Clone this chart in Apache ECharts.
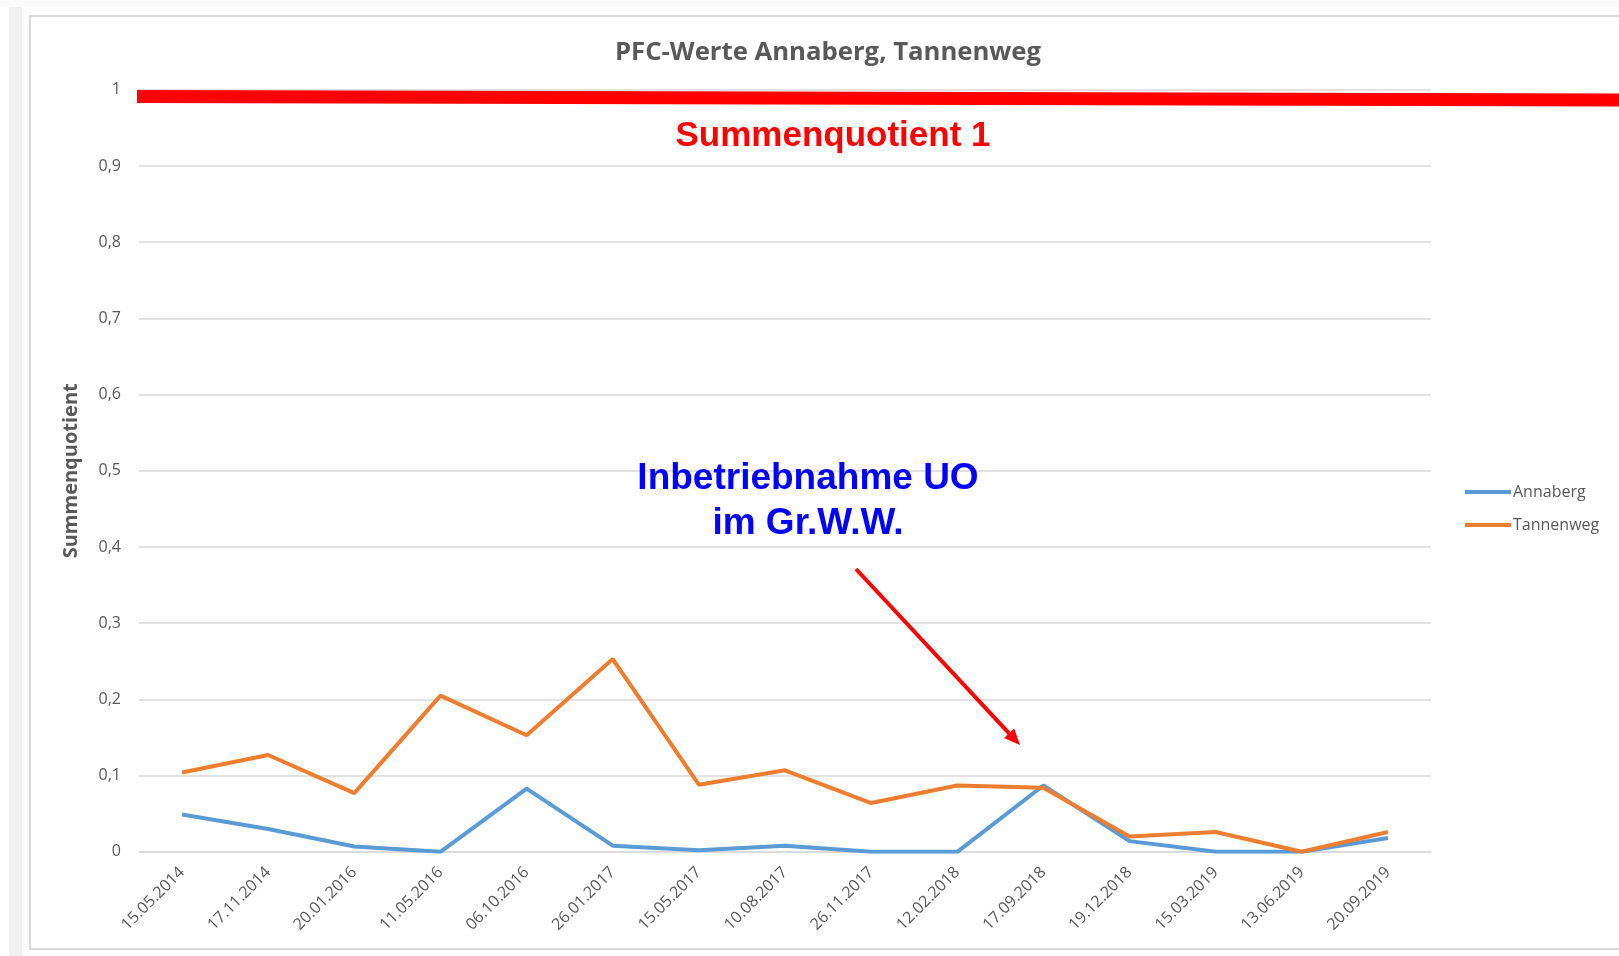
<!DOCTYPE html>
<html>
<head>
<meta charset="utf-8">
<script src="https://cdn.jsdelivr.net/npm/echarts@6/dist/echarts.min.js"></script>
<style>
html,body{margin:0;padding:0;background:#ffffff;}
#chart{width:1619px;height:956px;}
</style>
</head>
<body>
<div id="chart"></div>
<script>
// ---- data ----
const categories = ['15.05.2014','17.11.2014','20.01.2016','11.05.2016','06.10.2016','26.01.2017','15.05.2017','10.08.2017','26.11.2017','12.02.2018','17.09.2018','19.12.2018','15.03.2019','13.06.2019','20.09.2019'];
const annaberg  = [0.049,0.030,0.007,0.000,0.083,0.008,0.002,0.008,0.000,0.000,0.087,0.014,0.000,0.000,0.018];
const tannenweg = [0.104,0.127,0.077,0.205,0.153,0.253,0.088,0.107,0.064,0.087,0.084,0.020,0.026,0.000,0.026];
const seriesNames = ['Annaberg','Tannenweg'];
const chartTitle = 'PFC-Werte Annaberg, Tannenweg';
const yAxisName = 'Summenquotient';
const limitLabel = 'Summenquotient 1';
const noteLines = ['Inbetriebnahme UO','im Gr.W.W.'];

const gray = '#595959';
const chart = echarts.init(document.getElementById('chart'), null, {renderer:'canvas'});

// arrow geometry (annotation)
const a0 = [856,569], a1 = [1020,745];
const dx = a1[0]-a0[0], dy = a1[1]-a0[1], L = Math.sqrt(dx*dx+dy*dy);
const ux = dx/L, uy = dy/L, hl = 16, hw = 7;
const base = [a1[0]-ux*hl, a1[1]-uy*hl];

chart.setOption({
  animation:false,
  backgroundColor:'#ffffff',
  title:{
    text: chartTitle,
    left: 823, top: 35, textAlign:'center',
    textStyle:{fontFamily:'Open Sans', fontWeight:'bold', fontSize:25.7, color:gray}
  },
  legend:{
    orient:'vertical', left:1460, top:479,
    itemWidth:46, itemHeight:4, itemGap:17, icon:'rect',
    textStyle:{fontFamily:'Open Sans', fontSize:16, color:gray, padding:[0,0,0,-3]},
    data: seriesNames
  },
  grid:{left:139, right:188, top:89.8, bottom:104.2, containLabel:false},
  xAxis:{
    type:'category', data:categories, boundaryGap:true,
    axisLine:{show:true, lineStyle:{color:'#d9d9d9', width:1.5}},
    axisTick:{show:false},
    axisLabel:{rotate:45, margin:18, interval:0, fontFamily:'Open Sans', fontSize:16, color:gray}
  },
  yAxis:{
    type:'value', min:0, max:1, interval:0.1,
    name: yAxisName, nameLocation:'middle', nameGap:58, nameRotate:90,
    nameTextStyle:{fontFamily:'Open Sans', fontWeight:'bold', fontSize:20, color:gray},
    axisLine:{show:false}, axisTick:{show:false},
    splitLine:{lineStyle:{color:'#d9d9d9', width:1.5}},
    axisLabel:{margin:18, fontFamily:'Open Sans', fontSize:16, color:gray,
      formatter: v => String(Math.round(v*10)/10).replace('.', ',')}
  },
  series:[
    {name:seriesNames[0], type:'line', data:annaberg, symbol:'none', lineStyle:{width:4, color:'#5b9bd5'}, itemStyle:{color:'#5b9bd5'}, z:2},
    {name:seriesNames[1], type:'line', data:tannenweg, symbol:'none', lineStyle:{width:4, color:'#ed7d31'}, itemStyle:{color:'#ed7d31'}, z:3}
  ],
  graphic:[
    // page frame
    {type:'rect', z:-10, silent:true, shape:{x:0,y:0,width:1619,height:7}, style:{fill:'#fbfbfb'}},
    {type:'rect', z:-10, silent:true, shape:{x:9,y:7,width:13,height:949}, style:{fill:'#f2f2f2'}},
    {type:'rect', z:-9, silent:true, shape:{x:30,y:16,width:1700,height:933}, style:{fill:'none', stroke:'#d9d9d9', lineWidth:2}},
    // limit line
    {type:'line', z:50, silent:true, shape:{x1:137,y1:96.5,x2:1625,y2:100}, style:{stroke:'#ff0000', lineWidth:13}},
    {type:'text', z:50, silent:true, x:833, y:136, style:{text:limitLabel, fill:'#ff0000', font:'bold 35px "Liberation Sans"', textAlign:'center', textVerticalAlign:'middle'}},
    // note text
    {type:'text', z:50, silent:true, x:808, y:479, style:{text:noteLines[0], fill:'#0000ff', font:'bold 37px "Liberation Sans"', textAlign:'center', textVerticalAlign:'middle'}},
    {type:'text', z:50, silent:true, x:808, y:524, style:{text:noteLines[1], fill:'#0000ff', font:'bold 37px "Liberation Sans"', textAlign:'center', textVerticalAlign:'middle'}},
    // arrow
    {type:'line', z:50, silent:true, shape:{x1:a0[0],y1:a0[1],x2:base[0],y2:base[1]}, style:{stroke:'#ff0000', lineWidth:4}},
    {type:'polygon', z:50, silent:true, shape:{points:[[a1[0],a1[1]],[base[0]-uy*hw, base[1]+ux*hw],[base[0]+uy*hw, base[1]-ux*hw]]}, style:{fill:'#ff0000'}}
  ]
});
</script>
</body>
</html>
